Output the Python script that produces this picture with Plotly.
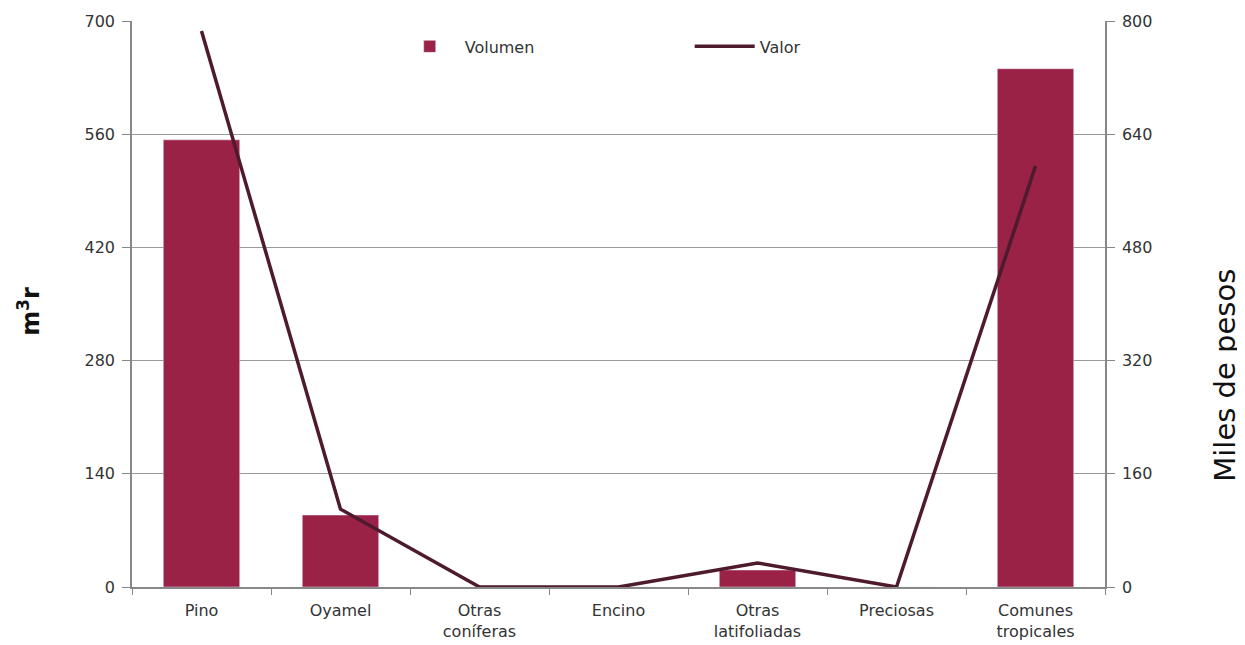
import plotly.graph_objects as go

categorias = ["Pino", "Oyamel", "Otras<br>coníferas", "Encino", "Otras<br>latifoliadas", "Preciosas", "Comunes<br>tropicales"]
volumen = [553, 89, 0, 0, 21, 0, 641]
valor = [786, 110, 0, 0, 34, 0, 595]
ticks_izq = [0, 140, 280, 420, 560, 700]
ticks_der = [0, 160, 320, 480, 640, 800]
titulo_izq = "<b>m<sup>3</sup>r</b>"
titulo_der = "Miles de pesos"

fuente = "DejaVu Sans, sans-serif"

fig = go.Figure()
fig.add_trace(go.Bar(x=categorias, y=volumen, name="Volumen", marker_color="#9B2247",
                     width=0.55, yaxis="y"))
fig.add_trace(go.Scatter(x=categorias, y=valor, name="Valor", mode="lines",
                         line=dict(color="#4E1A2D", width=3.5), yaxis="y2"))

fig.update_layout(
    width=1237, height=637,
    margin=dict(l=124, r=140, t=13, b=58, autoexpand=False),
    plot_bgcolor="white", paper_bgcolor="white",
    font=dict(family=fuente, size=15, color="#333333"),
    showlegend=True,
    legend=dict(orientation="h", x=0.27, y=0.955, xanchor="left", yanchor="middle",
                font=dict(size=16, color="#333333"), entrywidth=220, entrywidthmode="pixels",
                itemwidth=60, bgcolor="rgba(0,0,0,0)"),
    xaxis=dict(showline=True, linecolor="#888888", linewidth=1.5, ticks="outside",
               tickson="boundaries", ticklen=6, tickcolor="#888888", automargin=False,
               ticklabelstandoff=8,
               tickfont=dict(size=16, color="#333333"), showgrid=False),
    yaxis=dict(range=[0, 700], tickvals=ticks_izq, showline=True, linecolor="#888888",
               linewidth=1.5, ticks="outside", ticklen=8, tickcolor="#888888",
               showgrid=True, gridcolor="#9a9a9a", gridwidth=1.3, zeroline=False,
               automargin=False, ticklabelstandoff=4,
               tickfont=dict(size=16, color="#333333")),
    yaxis2=dict(range=[0, 800], tickvals=ticks_der, overlaying="y", side="right",
                showline=True, linecolor="#888888", linewidth=1.5, ticks="outside",
                ticklen=8, tickcolor="#888888", showgrid=False, zeroline=False,
                automargin=False, ticklabelstandoff=4,
                tickfont=dict(size=16, color="#333333")),
    annotations=[
        dict(text=titulo_izq, xref="paper", yref="paper", x=-0.106, y=0.488,
             xanchor="center", yanchor="middle", textangle=-90, showarrow=False,
             font=dict(size=24, color="#111111")),
        dict(text=titulo_der, xref="paper", yref="paper", x=1.1233, y=0.375,
             xanchor="center", yanchor="middle", textangle=-90, showarrow=False,
             font=dict(size=29, color="#111111")),
    ],
)

fig.write_html("out.html")
